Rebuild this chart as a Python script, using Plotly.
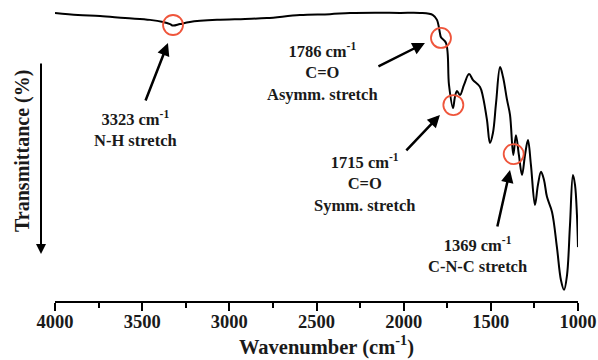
import plotly.graph_objects as go

# Spectrum (wavenumber cm^-1, transmittance %)
wavenumber = [4000, 3868, 3742, 3598, 3455, 3380, 3340, 3323, 3283, 3226, 3071, 2910, 2784,
              2595, 2423, 2308, 2164, 2021, 1906, 1832, 1809, 1792, 1786, 1757, 1740, 1717,
              1706, 1694, 1677, 1654, 1625, 1602, 1562, 1545, 1522, 1505, 1488, 1470, 1447,
              1430, 1407, 1390, 1371, 1356, 1339, 1321, 1304, 1287, 1270, 1247, 1230, 1212,
              1195, 1178, 1149, 1121, 1098, 1080, 1063, 1046, 1029, 1017, 1006, 1000]
transmittance = [95.7, 95.0, 94.7, 94.0, 93.4, 92.7, 92.0, 91.5, 92.0, 92.7, 93.4, 93.7, 94.0,
                 95.0, 95.3, 95.7, 95.8, 95.7, 95.7, 95.0, 93.4, 89.0, 87.6, 85.7, 71.8, 64.1,
                 67.8, 69.8, 68.4, 71.8, 75.4, 73.4, 71.1, 67.8, 60.1, 52.5, 55.8, 65.8, 77.7,
                 74.4, 66.8, 61.8, 48.5, 55.1, 48.5, 41.9, 48.5, 53.5, 45.2, 31.9, 38.5, 42.9,
                 40.2, 34.6, 29.6, 17.9, 7.0, 3.7, 8.6, 25.2, 41.9, 38.5, 28.6, 17.9]

# Marked bands
band_wn = [3323, 1786, 1715, 1369]
band_t = [91.7, 87.4, 65.1, 48.8]
band_labels = ["3323 cm<sup>-1</sup><br>N-H stretch",
               "1786 cm<sup>-1</sup><br>C=O<br>Asymm. stretch",
               "1715 cm<sup>-1</sup><br>C=O<br>Symm. stretch",
               "1369 cm<sup>-1</sup><br>C-N-C stretch"]
label_wn = [3541, 2463, 2222, 1574]
label_t = [57.1, 76.1, 39.2, 15.3]
arrow_head_wn = [3352, 1878, 1792, 1390]
arrow_head_t = [85.7, 85.7, 61.8, 43.5]
arrow_tail_dx = [-23, -48, -35, -13]
arrow_tail_dy = [59, 24, 37, 58]

tick_vals = [4000, 3500, 3000, 2500, 2000, 1500, 1000]
x_title = "Wavenumber (cm<sup>-1</sup>)"
y_title = "Transmittance (%)"

FONT = "Liberation Serif"
TXT = "#1a1a1a"

fig = go.Figure()
fig.add_trace(go.Scatter(x=wavenumber, y=transmittance, mode="lines",
                         line=dict(color="black", width=2), line_shape="spline",
                         hoverinfo="skip", showlegend=False))
fig.add_trace(go.Scatter(x=band_wn, y=band_t, mode="markers",
                         marker=dict(symbol="circle-open", size=20,
                                     line=dict(color="#c8383f", width=1.8)),
                         hoverinfo="skip", showlegend=False))

for lw, lt, txt in zip(label_wn, label_t, band_labels):
    fig.add_annotation(x=lw, y=lt, text=txt, showarrow=False,
                       font=dict(family=FONT, size=16.5, color=TXT, weight="bold"),
                       xanchor="center", yanchor="middle", align="center")

for hx, hy, dx, dy in zip(arrow_head_wn, arrow_head_t, arrow_tail_dx, arrow_tail_dy):
    fig.add_annotation(x=hx, y=hy, ax=dx, ay=dy, text="", showarrow=True,
                       arrowhead=2, arrowsize=1, arrowwidth=2.5, arrowcolor="black")

# Y-axis direction arrow and title
fig.add_annotation(xref="paper", yref="paper", x=-14 / 523, y=(301 - 254) / 301,
                   ax=0, ay=-192, text="", showarrow=True,
                   arrowhead=2, arrowsize=1, arrowwidth=2, arrowcolor="black")
fig.add_annotation(xref="paper", yref="paper", x=-33 / 523, y=(301 - 151) / 301,
                   text=y_title, showarrow=False, textangle=-90,
                   font=dict(family=FONT, size=20, color=TXT, weight="bold"),
                   xanchor="center", yanchor="middle")
# X-axis title
fig.add_annotation(xref="paper", yref="paper", x=(326 - 55) / 523, y=-(360 - 301) / 301,
                   text=x_title, showarrow=False,
                   font=dict(family=FONT, size=20.5, color=TXT, weight="bold"),
                   xanchor="center", yanchor="bottom", borderpad=0)

fig.update_layout(
    width=598, height=360,
    margin=dict(l=55, r=20, t=0, b=59),
    plot_bgcolor="white", paper_bgcolor="white",
    font=dict(family=FONT, color=TXT),
    xaxis=dict(range=[4000, 1000], tickvals=tick_vals, showgrid=False, zeroline=False,
               showline=True, linecolor="black", linewidth=2,
               ticks="outside", ticklen=8, tickwidth=2, tickcolor="black",
               ticklabelstandoff=-5,
               tickfont=dict(family=FONT, size=18.5, color=TXT, weight="bold"),
               minor=dict(dtick=250, tick0=1000, ticks="outside", ticklen=5,
                          tickwidth=2, tickcolor="black")),
    yaxis=dict(range=[0, 100], showgrid=False, zeroline=False, showline=False,
               showticklabels=False, ticks=""),
)

fig.write_html("out.html")
